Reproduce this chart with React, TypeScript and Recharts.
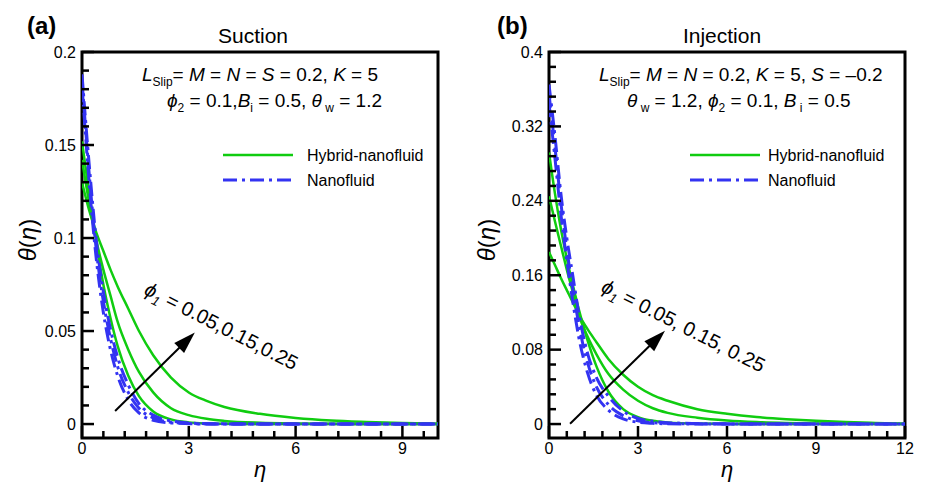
import React from 'react'
import { LineChart, Line, XAxis, YAxis, ReferenceArea, ReferenceLine, ReferenceDot } from 'recharts'

const FONT = '"Liberation Sans", Arial, Helvetica, sans-serif'
const GREEN = '#10cc10'
const BLUE = '#3333f2'
const DASH = '14 5 3 5'

// ---- (a) Suction ----
const etaA = [0, 0.2, 0.4, 0.6, 0.8, 1.0, 1.3, 1.6, 2.0, 2.5, 3.0, 3.5, 4, 5, 6, 7, 8, 9, 10]
const hybridA1 = [0.152, 0.124, 0.098, 0.075, 0.057, 0.042, 0.026, 0.015, 0.0068, 0.0025, 0.0009, 0.0003, 0.0001, 0, 0, 0, 0, 0, 0]
const hybridA2 = [0.142, 0.119, 0.099, 0.083, 0.069, 0.055, 0.04, 0.028, 0.017, 0.0085, 0.0048, 0.0028, 0.0017, 0.0007, 0.0003, 0.0001, 0, 0, 0]
const hybridA3 = [0.13, 0.115, 0.103, 0.093, 0.083, 0.074, 0.062, 0.05, 0.037, 0.025, 0.017, 0.0125, 0.0092, 0.0055, 0.0033, 0.0019, 0.0011, 0.0005, 0.0002]
const nanoA1 = [0.182, 0.13, 0.089, 0.06, 0.04, 0.026, 0.013, 0.006, 0.002, 0.0006, 0.0002, 0, 0, 0, 0, 0, 0, 0, 0]
const nanoA2 = [0.185, 0.135, 0.094, 0.066, 0.046, 0.031, 0.017, 0.0085, 0.0033, 0.001, 0.0003, 0.0001, 0, 0, 0, 0, 0, 0, 0]
const nanoA3 = [0.188, 0.14, 0.099, 0.071, 0.051, 0.036, 0.021, 0.011, 0.0048, 0.0017, 0.0006, 0.0002, 0.0001, 0, 0, 0, 0, 0, 0]

const xTicksA = [0, 0.6, 1.2, 1.8, 2.4, 3, 3.6, 4.2, 4.8, 5.4, 6, 6.6, 7.2, 7.8, 8.4, 9, 9.6]
const xMajorA = [0, 3, 6, 9]
const yTicksA = [0, 0.01, 0.02, 0.03, 0.04, 0.05, 0.06, 0.07, 0.08, 0.09, 0.1, 0.11, 0.12, 0.13, 0.14, 0.15, 0.16, 0.17, 0.18, 0.19, 0.2]
const yMajorA = [0, 0.05, 0.1, 0.15, 0.2]

// ---- (b) Injection ----
const etaB = [0, 0.2, 0.4, 0.6, 0.8, 1.0, 1.3, 1.6, 2.0, 2.5, 3.0, 3.5, 4, 5, 6, 7, 8, 9, 10, 11, 12]
const hybridB1 = [0.292, 0.248, 0.21, 0.178, 0.15, 0.124, 0.09, 0.062, 0.035, 0.016, 0.0075, 0.0035, 0.0018, 0.0005, 0.0002, 0, 0, 0, 0, 0, 0]
const hybridB2 = [0.245, 0.218, 0.192, 0.166, 0.142, 0.118, 0.094, 0.075, 0.054, 0.037, 0.025, 0.017, 0.012, 0.0068, 0.0038, 0.0021, 0.0012, 0.0007, 0.0004, 0.0002, 0.0001]
const hybridB3 = [0.185, 0.171, 0.157, 0.144, 0.131, 0.118, 0.102, 0.088, 0.07, 0.053, 0.04, 0.031, 0.025, 0.016, 0.011, 0.0075, 0.0052, 0.0035, 0.0022, 0.0012, 0.0004]
const nanoB1 = [0.345, 0.286, 0.226, 0.176, 0.132, 0.094, 0.055, 0.031, 0.015, 0.0055, 0.002, 0.0008, 0.0003, 0.0001, 0, 0, 0, 0, 0, 0, 0]
const nanoB2 = [0.355, 0.298, 0.238, 0.188, 0.146, 0.108, 0.066, 0.04, 0.021, 0.009, 0.0035, 0.0015, 0.0007, 0.0002, 0, 0, 0, 0, 0, 0, 0]
const nanoB3 = [0.365, 0.31, 0.248, 0.2, 0.16, 0.12, 0.076, 0.05, 0.03, 0.014, 0.006, 0.003, 0.0015, 0.0005, 0.0002, 0, 0, 0, 0, 0, 0]

const xTicksB = [0, 0.6, 1.2, 1.8, 2.4, 3, 3.6, 4.2, 4.8, 5.4, 6, 6.6, 7.2, 7.8, 8.4, 9, 9.6, 10.2, 10.8, 11.4, 12]
const xMajorB = [0, 3, 6, 9, 12]
const yTicksB = [0, 0.016, 0.032, 0.048, 0.064, 0.08, 0.096, 0.112, 0.128, 0.144, 0.16, 0.176, 0.192, 0.208, 0.224, 0.24, 0.256, 0.272, 0.288, 0.304, 0.32, 0.336, 0.352, 0.368, 0.384, 0.4]
const yMajorB = [0, 0.08, 0.16, 0.24, 0.32, 0.4]

// annotation: arrow (data coords) and rotated phi1 label
const phiValuesA = '0.05,0.15,0.25'
const phiValuesB = '0.05, 0.15, 0.25'
const arrowA = [{ x: 0.93, y: 0.007 }, { x: 3.17, y: 0.0492 }]
const arrowB = [{ x: 0.71, y: 0.0003 }, { x: 3.91, y: 0.1003 }]
const labelA = { x: 1.71, y: 0.07 }
const labelB = { x: 1.72, y: 0.143 }

const isMajor = (majors: number[], v: number) => majors.some((m) => Math.abs(m - v) < 1e-6)

const makeXTick = (majors: number[]) => (props: any) => {
  const { x, y, payload } = props
  const major = isMajor(majors, payload.value)
  return (
    <g>
      <line x1={x} y1={y} x2={x} y2={y - (major ? 12 : 7)} stroke="#000" strokeWidth={2.5} />
      {major && (
        <text x={x} y={y + 16} textAnchor="middle" fontSize={16} fontFamily={FONT} fill="#000">
          {String(payload.value)}
        </text>
      )}
    </g>
  )
}

const makeYTick = (majors: number[]) => (props: any) => {
  const { x, y, payload } = props
  const major = isMajor(majors, payload.value)
  return (
    <g>
      <line x1={x} y1={y} x2={x + (major ? 12 : 7)} y2={y} stroke="#000" strokeWidth={2.5} />
      {major && (
        <text x={x - 6} y={y} dy="0.35em" textAnchor="end" fontSize={16} fontFamily={FONT} fill="#000">
          {String(payload.value)}
        </text>
      )}
    </g>
  )
}

const ArrowShape = (p: any) => {
  const { x1, y1, x2, y2 } = p
  const dx = x2 - x1
  const dy = y2 - y1
  const len = Math.hypot(dx, dy) || 1
  const ux = dx / len
  const uy = dy / len
  const hl = 22
  const hw = 7
  const bx = x2 - ux * hl
  const by = y2 - uy * hl
  return (
    <g>
      <line x1={x1} y1={y1} x2={bx + ux * 2} y2={by + uy * 2} stroke="#000" strokeWidth={2} />
      <polygon points={`${x2},${y2} ${bx - uy * hw},${by + ux * hw} ${bx + uy * hw},${by - ux * hw}`} fill="#000" />
    </g>
  )
}

const makePhiLabel = (values: string) => (p: any) => (
  <text
    x={p.cx}
    y={p.cy}
    transform={`rotate(27 ${p.cx} ${p.cy})`}
    fontSize={20}
    fontFamily={FONT}
    fill="#000"
    style={{ whiteSpace: 'pre' }}
  >
    <tspan fontStyle="italic">ϕ</tspan>
    <tspan fontSize={13} dy={5} fontStyle="italic">1</tspan>
    <tspan dy={-5}>{' = ' + values}</tspan>
  </text>
)

interface PanelProps {
  eta: number[]
  hybrid: number[][]
  nano: number[][]
  xDomain: [number, number]
  yDomain: [number, number]
  xTicks: number[]
  xMajor: number[]
  yTicks: number[]
  yMajor: number[]
  width: number
  yAxisWidth: number
  marginRight: number
  arrow: { x: number; y: number }[]
  label: { x: number; y: number }
  phiValues: string
}

function Panel(p: PanelProps) {
  const data = p.eta.map((eta, i) => ({
    eta,
    h1: p.hybrid[0][i],
    h2: p.hybrid[1][i],
    h3: p.hybrid[2][i],
    n1: p.nano[0][i],
    n2: p.nano[1][i],
    n3: p.nano[2][i],
  }))
  return (
    <LineChart width={p.width} height={482} data={data} margin={{ top: 52, right: p.marginRight, bottom: 0, left: 0 }}>
      <XAxis
        dataKey="eta"
        type="number"
        domain={p.xDomain}
        allowDataOverflow
        ticks={p.xTicks}
        interval={0}
        height={44}
        axisLine={false}
        tickLine={false}
        tickSize={0}
        tickMargin={0}
        tick={makeXTick(p.xMajor)}
      />
      <YAxis
        type="number"
        domain={p.yDomain}
        allowDataOverflow
        ticks={p.yTicks}
        interval={0}
        width={p.yAxisWidth}
        axisLine={false}
        tickLine={false}
        tickSize={0}
        tickMargin={0}
        tick={makeYTick(p.yMajor)}
      />
      <ReferenceArea
        x1={p.xDomain[0]}
        x2={p.xDomain[1]}
        y1={p.yDomain[0]}
        y2={p.yDomain[1]}
        fill="none"
        fillOpacity={0}
        stroke="#000"
        strokeWidth={3}
      />
      {['h3', 'h2', 'h1'].map((k) => (
        <Line key={k} dataKey={k} type="monotone" stroke={GREEN} strokeWidth={2.5} dot={false} activeDot={false} isAnimationActive={false} />
      ))}
      {['n3', 'n2', 'n1'].map((k) => (
        <Line
          key={k}
          dataKey={k}
          type="monotone"
          stroke={BLUE}
          strokeWidth={3}
          strokeDasharray={DASH}
          dot={false}
          activeDot={false}
          isAnimationActive={false}
        />
      ))}
      <ReferenceLine segment={p.arrow} shape={ArrowShape} />
      <ReferenceDot x={p.label.x} y={p.label.y} r={1} shape={makePhiLabel(p.phiValues)} />
    </LineChart>
  )
}

function Overlay() {
  const t = { fontFamily: FONT, fill: '#000', style: { whiteSpace: 'pre' as const } }
  return (
    <svg width={925} height={482} style={{ position: 'absolute', left: 0, top: 0, pointerEvents: 'none' }}>
      {/* panel labels and titles */}
      <text x={27} y={34} fontSize={24} fontWeight="bold" {...t}>(a)</text>
      <text x={253} y={43} fontSize={21} textAnchor="middle" {...t}>Suction</text>
      <text x={497} y={34} fontSize={24} fontWeight="bold" {...t}>(b)</text>
      <text x={722} y={43} fontSize={21} textAnchor="middle" {...t}>Injection</text>

      {/* parameters (a) */}
      <text x={142} y={81} fontSize={19} {...t}>
        <tspan fontStyle="italic">L</tspan>
        <tspan fontSize={12} dy={5}>Slip</tspan>
        <tspan dy={-5}>= </tspan>
        <tspan fontStyle="italic">M</tspan>
        <tspan> = </tspan>
        <tspan fontStyle="italic">N</tspan>
        <tspan> = </tspan>
        <tspan fontStyle="italic">S</tspan>
        <tspan> = 0.2, </tspan>
        <tspan fontStyle="italic">K</tspan>
        <tspan> = 5</tspan>
      </text>
      <text x={167} y={107} fontSize={19} {...t}>
        <tspan fontStyle="italic">ϕ</tspan>
        <tspan fontSize={12} dy={5}>2</tspan>
        <tspan dy={-5}> = 0.1,</tspan>
        <tspan fontStyle="italic">B</tspan>
        <tspan fontSize={12} dy={5}>i</tspan>
        <tspan dy={-5}> = 0.5, </tspan>
        <tspan fontStyle="italic">θ</tspan>
        <tspan fontSize={12} dy={5}> w</tspan>
        <tspan dy={-5}> = 1.2</tspan>
      </text>

      {/* parameters (b) */}
      <text x={599} y={81} fontSize={19} {...t}>
        <tspan fontStyle="italic">L</tspan>
        <tspan fontSize={12} dy={5}>Slip</tspan>
        <tspan dy={-5}>= </tspan>
        <tspan fontStyle="italic">M</tspan>
        <tspan> = </tspan>
        <tspan fontStyle="italic">N</tspan>
        <tspan> = 0.2, </tspan>
        <tspan fontStyle="italic">K</tspan>
        <tspan> = 5, </tspan>
        <tspan fontStyle="italic">S</tspan>
        <tspan> = –0.2</tspan>
      </text>
      <text x={627} y={107} fontSize={19} {...t}>
        <tspan fontStyle="italic">θ</tspan>
        <tspan fontSize={12} dy={5}> w</tspan>
        <tspan dy={-5}> = 1.2, </tspan>
        <tspan fontStyle="italic">ϕ</tspan>
        <tspan fontSize={12} dy={5}>2</tspan>
        <tspan dy={-5}> = 0.1, </tspan>
        <tspan fontStyle="italic">B</tspan>
        <tspan fontSize={12} dy={5}> i</tspan>
        <tspan dy={-5}> = 0.5</tspan>
      </text>

      {/* legends */}
      <line x1={223} y1={155} x2={293} y2={155} stroke={GREEN} strokeWidth={2.5} />
      <text x={307} y={155} dy="0.35em" fontSize={16} {...t}>Hybrid-nanofluid</text>
      <line x1={223} y1={180} x2={293} y2={180} stroke={BLUE} strokeWidth={3} strokeDasharray={DASH} />
      <text x={307} y={180} dy="0.35em" fontSize={16} {...t}>Nanofluid</text>

      <line x1={690} y1={155} x2={760} y2={155} stroke={GREEN} strokeWidth={2.5} />
      <text x={768} y={155} dy="0.35em" fontSize={16} {...t}>Hybrid-nanofluid</text>
      <line x1={690} y1={180} x2={760} y2={180} stroke={BLUE} strokeWidth={3} strokeDasharray={DASH} />
      <text x={768} y={180} dy="0.35em" fontSize={16} {...t}>Nanofluid</text>

      {/* axis titles */}
      <text x={28} y={240} fontSize={24} textAnchor="middle" dy="0.35em" transform="rotate(-90 28 240)" {...t}>
        <tspan fontStyle="italic">θ</tspan>(<tspan fontStyle="italic">η</tspan>)
      </text>
      <text x={487} y={240} fontSize={24} textAnchor="middle" dy="0.35em" transform="rotate(-90 487 240)" {...t}>
        <tspan fontStyle="italic">θ</tspan>(<tspan fontStyle="italic">η</tspan>)
      </text>
      <text x={260} y={477} fontSize={22} textAnchor="middle" fontStyle="italic" {...t}>η</text>
      <text x={727} y={477} fontSize={22} textAnchor="middle" fontStyle="italic" {...t}>η</text>
    </svg>
  )
}

export default function App() {
  return (
    <div style={{ position: 'absolute', left: 0, top: 0, width: 925, height: 482, background: '#fff' }}>
      <div style={{ position: 'absolute', left: 0, top: 0 }}>
        <Panel
          eta={etaA}
          hybrid={[hybridA1, hybridA2, hybridA3]}
          nano={[nanoA1, nanoA2, nanoA3]}
          xDomain={[0, 10]}
          yDomain={[-0.0075, 0.2]}
          xTicks={xTicksA}
          xMajor={xMajorA}
          yTicks={yTicksA}
          yMajor={yMajorA}
          width={460}
          yAxisWidth={82}
          marginRight={22}
          arrow={arrowA}
          label={labelA}
          phiValues={phiValuesA}
        />
      </div>
      <div style={{ position: 'absolute', left: 460, top: 0 }}>
        <Panel
          eta={etaB}
          hybrid={[hybridB1, hybridB2, hybridB3]}
          nano={[nanoB1, nanoB2, nanoB3]}
          xDomain={[0, 12]}
          yDomain={[-0.015, 0.4]}
          xTicks={xTicksB}
          xMajor={xMajorB}
          yTicks={yTicksB}
          yMajor={yMajorB}
          width={465}
          yAxisWidth={89}
          marginRight={20}
          arrow={arrowB}
          label={labelB}
          phiValues={phiValuesB}
        />
      </div>
      <Overlay />
    </div>
  )
}
